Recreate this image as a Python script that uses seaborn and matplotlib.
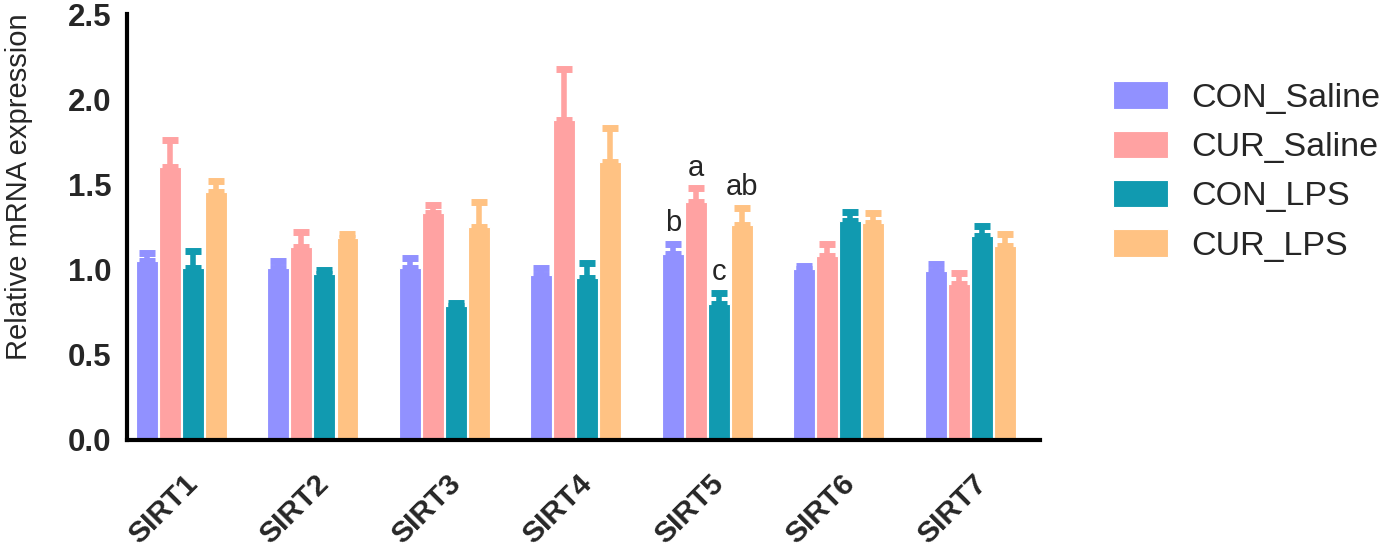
import numpy as np
import pandas as pd
import matplotlib
matplotlib.use('Agg')
import matplotlib.pyplot as plt
import seaborn as sns

# data
genes = ['SIRT1', 'SIRT2', 'SIRT3', 'SIRT4', 'SIRT5', 'SIRT6', 'SIRT7']
groups = ['CON_Saline', 'CUR_Saline', 'CON_LPS', 'CUR_LPS']
colors = ['#9191FF', '#FFA2A2', '#119AB0', '#FFC283']

con_saline = [1.05, 1.01, 1.01, 0.965, 1.09, 1.00, 0.99]
cur_saline = [1.60, 1.13, 1.33, 1.875, 1.395, 1.08, 0.915]
con_lps = [1.005, 0.97, 0.785, 0.95, 0.795, 1.285, 1.195]
cur_lps = [1.455, 1.185, 1.25, 1.63, 1.26, 1.275, 1.135]

con_saline_err = [0.045, 0.04, 0.055, 0.04, 0.06, 0.02, 0.04]
cur_saline_err = [0.16, 0.09, 0.05, 0.30, 0.08, 0.07, 0.065]
con_lps_err = [0.105, 0.025, 0.02, 0.09, 0.065, 0.05, 0.06]
cur_lps_err = [0.065, 0.02, 0.145, 0.20, 0.10, 0.055, 0.075]

# significance letters for SIRT5
sig_gene = 'SIRT5'
sig_letters = ['b', 'a', 'c', 'ab']

values = [con_saline, cur_saline, con_lps, cur_lps]
errors = [con_saline_err, cur_saline_err, con_lps_err, cur_lps_err]

df = pd.DataFrame({
    'gene': genes * 4,
    'group': [g for g in groups for _ in genes],
    'value': [v for vals in values for v in vals],
})

sns.set_style('white')
plt.rcParams['font.family'] = ['Liberation Sans', 'DejaVu Sans']

fig = plt.figure(figsize=(13.82, 5.5), dpi=100)
ax = fig.add_axes([0.0919, 0.2009, 0.6606, 0.7736])

sns.barplot(data=df, x='gene', y='value', hue='group', hue_order=groups,
            order=genes, palette=colors, saturation=1, width=0.7, gap=0.06,
            edgecolor='white', linewidth=0.8, errorbar=None, ax=ax)

# upper-only error bars in bar colour
bar_conts = list(ax.containers)
gi = genes.index(sig_gene)
for k, cont in enumerate(bar_conts):
    xs = [b.get_x() + b.get_width() / 2 for b in cont]
    tops = [b.get_height() for b in cont]
    eb = ax.errorbar(xs, tops, yerr=[np.zeros(len(xs)), errors[k]], fmt='none',
                     ecolor=colors[k], elinewidth=4, capsize=5.5, capthick=5,
                     zorder=1)
    ax.annotate(sig_letters[k], (xs[gi], tops[gi] + errors[k][gi]),
                xytext=(0, 5), textcoords='offset points',
                ha='center', va='bottom', fontsize=21)

ax.set_ylim(0, 2.5)
ax.set_yticks(np.arange(0, 2.51, 0.5))
ax.set_yticklabels(['%.1f' % t for t in np.arange(0, 2.51, 0.5)],
                   fontsize=22.5, fontweight='bold')
ax.set_xlim(-0.413, 6.53)
ax.set_xticks(np.arange(len(genes)) + 0.09)
ax.set_xticklabels(genes, fontsize=21.5, fontweight='bold', rotation=45,
                   ha='right', va='center', rotation_mode='anchor')
ax.tick_params(axis='both', direction='out', length=9.5, width=3, color='black')
ax.tick_params(axis='y', pad=1.5)
ax.tick_params(axis='x', pad=19.5)

for s in ['top', 'right']:
    ax.spines[s].set_visible(False)
for s in ['left', 'bottom']:
    ax.spines[s].set_linewidth(3)
    ax.spines[s].set_color('black')

ax.set_xlabel('')
ax.set_ylabel('Relative mRNA expression', fontsize=21)
ax.yaxis.set_label_coords(-0.1035, 0.594)

handles, labels = ax.get_legend_handles_labels()
ax.legend(handles[:4], labels[:4], loc='upper left', bbox_to_anchor=(0.8054, 0.852),
          bbox_transform=fig.transFigure, frameon=False, fontsize=24.5,
          handlelength=1.6, handleheight=0.85, handletextpad=0.7,
          labelspacing=0.5, borderpad=0, borderaxespad=0)

fig.savefig('out.png', dpi=100)
